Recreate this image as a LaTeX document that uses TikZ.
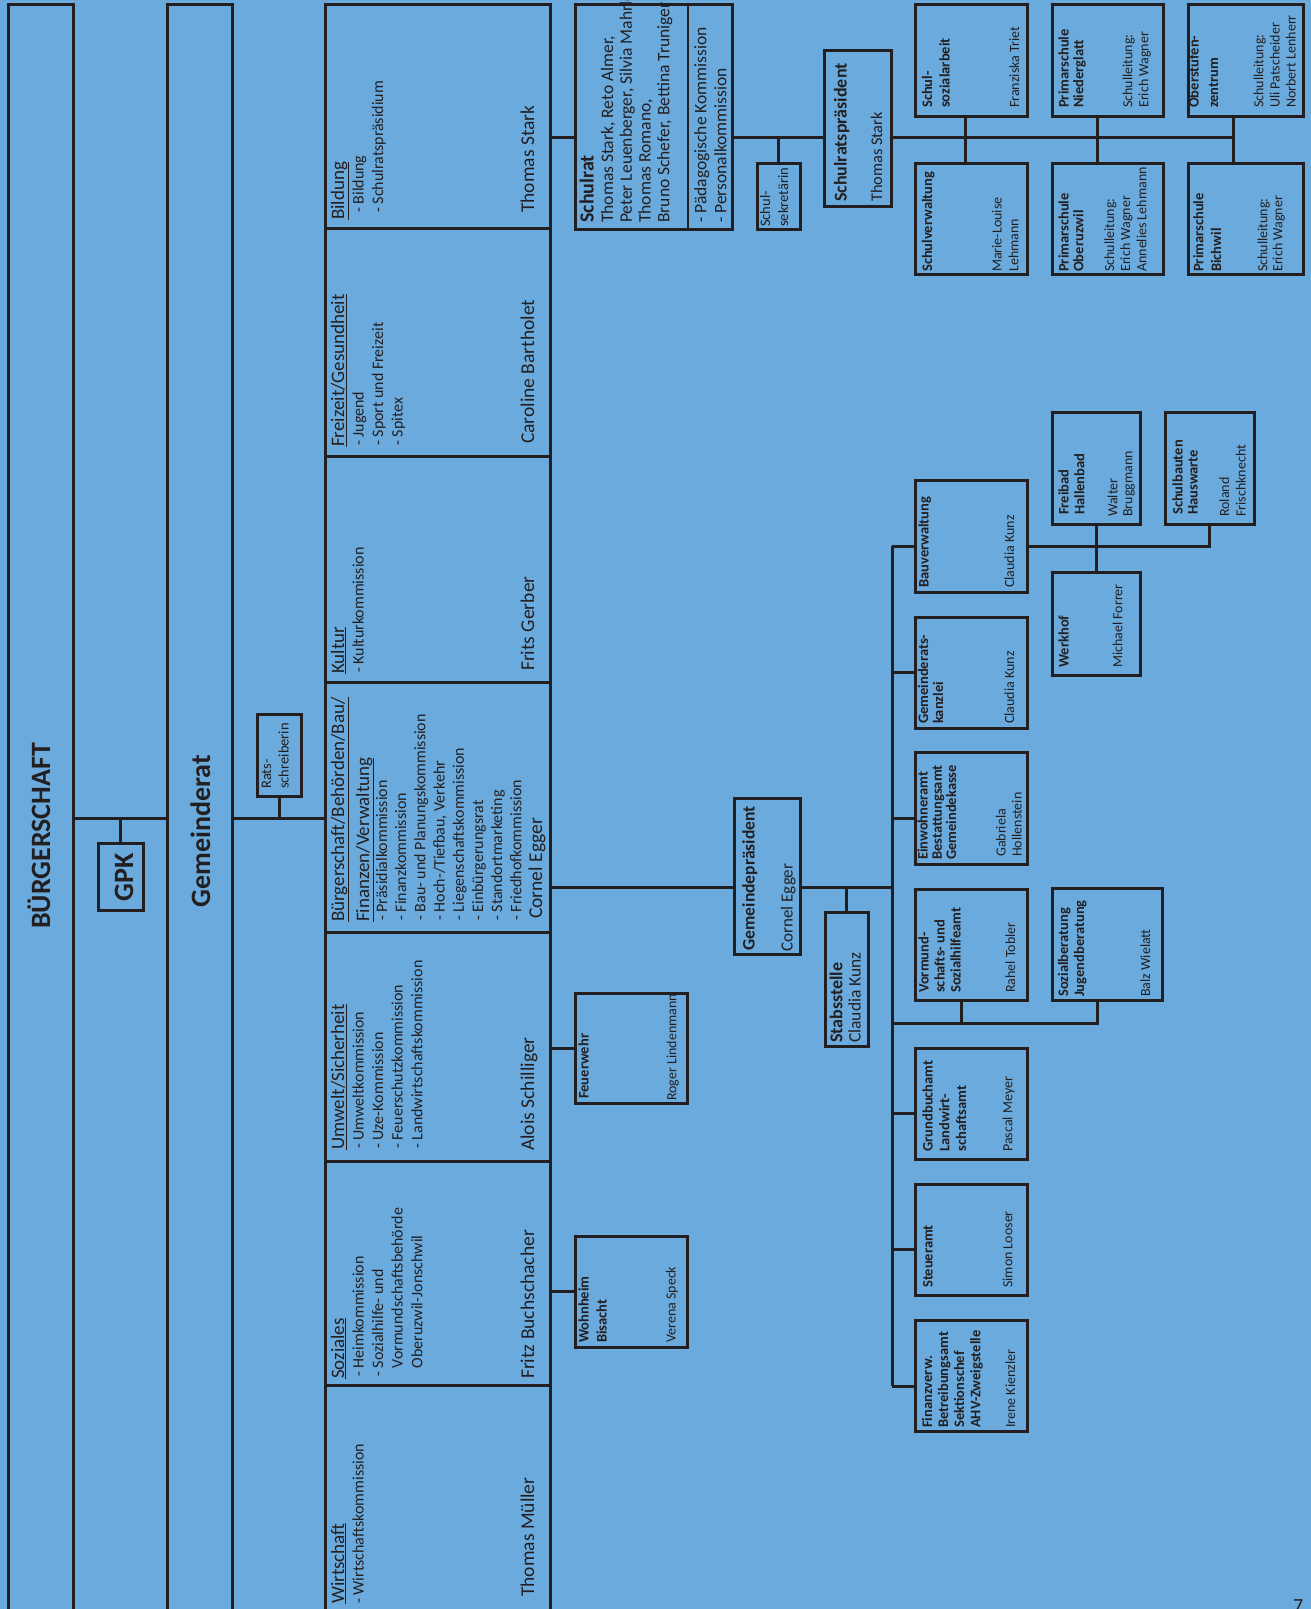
\documentclass[tikz,border=0pt]{standalone}
\usepackage{fontspec}
\setmainfont{Carlito}
\usepackage{tikz}
\definecolor{bgblue}{RGB}{106,170,221}
\definecolor{ink}{RGB}{35,31,32}
\newcommand{\fsz}[2]{\fontsize{#1}{#2}\selectfont}
\newcommand{\lns}[1]{\begin{tabular}[t]{@{}l@{}}#1\end{tabular}}

\begin{document}
\begin{tikzpicture}[x=1pt, y=-1pt,
    box/.style={draw=ink, line width=3pt, inner sep=0pt},
    conn/.style={draw=ink, line width=3pt},
    txt/.style={rotate=90, anchor=base west, inner sep=0pt, text=ink},
    bigtxt/.style={rotate=90, anchor=base, inner sep=0pt, text=ink, font=\fsz{28}{32}\bfseries},
    depttitle/.style={txt, font=\fsz{19}{25}},
    deptlist/.style={txt, font=\fsz{16}{19.6}},
    deptname/.style={txt, font=\fsz{19.5}{23}},
    unittitle/.style={txt, font=\fsz{14.5}{15.5}\bfseries},
    unitname/.style={txt, font=\fsz{14}{16}}]
  \useasboundingbox (0,0) rectangle (1311,1609);
  \fill[bgblue] (0,0) rectangle (1311,1609);

  % Buergerschaft, GPK, Gemeinderat
  \node[box,minimum width=65,minimum height=1616] (bsch) at (40.5,812) {};
  \node[box,minimum width=65,minimum height=1616] (gemrat) at (199.5,812) {};
  \node[box,minimum width=45,minimum height=67] (gpk) at (120.5,876.5) {};
  \node[box,minimum width=44,minimum height=82] (rats) at (279,755) {};
  \node[bigtxt] (bsch-t) at (50,836) {BÜRGERSCHAFT};
  \node[bigtxt] (gpk-t) at (133,877) {GPK};
  \node[bigtxt] (gemrat-t) at (210,831) {Gemeinderat};
  \node[txt,font=\fsz{14.5}{17.5}] (rats-t) at (271,789) {\lns{Rats-\\schreiberin}};

  % Ressorts
  \node[box,minimum width=225,minimum height=224] (bild) at (437.5,116) {};
  \node[box,minimum width=225,minimum height=228] (frei) at (437.5,342) {};
  \node[box,minimum width=225,minimum height=226] (kult) at (437.5,569) {};
  \node[box,minimum width=225,minimum height=250] (buerg) at (437.5,807) {};
  \node[box,minimum width=225,minimum height=229] (umw) at (437.5,1046.5) {};
  \node[box,minimum width=225,minimum height=224] (soz) at (437.5,1273) {};
  \node[box,minimum width=225,minimum height=235] (wirt) at (437.5,1502.5) {};

  \node[depttitle] (bild-t) at (344,220) {\underline{Bildung}};
  \node[deptlist] (bild-l) at (363.5,213) {\lns{- Bildung\\- Schulratspräsidium}};
  \node[deptname] (bild-n) at (534,213) {Thomas Stark};
  \node[depttitle] (frei-t) at (344,447) {\underline{Freizeit/Gesundheit}};
  \node[deptlist] (frei-l) at (363.5,446) {\lns{- Jugend\\- Sport und Freizeit\\- Spitex}};
  \node[deptname] (frei-n) at (534,444) {Caroline Bartholet};
  \node[depttitle] (kult-t) at (344,674) {\underline{Kultur}};
  \node[deptlist] (kult-l) at (363.5,673) {- Kulturkommission};
  \node[deptname] (kult-n) at (534,671) {Frits Gerber};
  \node[depttitle] (buerg-t) at (344,922)
    {\lns{\underline{Bürgerschaft/Behörden/Bau/}\\\underline{Finanzen/Verwaltung}}};
  \node[deptlist,font=\fsz{16}{19.2}] (buerg-l) at (387,921)
    {\lns{- Präsidialkommission\\- Finanzkommission\\- Bau- und Planungskommission\\- Hoch-/Tiefbau, Verkehr\\- Liegenschaftskommission\\- Einbürgerungsrat\\- Standortmarketing\\- Friedhofkommission}};
  \node[deptname] (buerg-n) at (542,919) {Cornel Egger};
  \node[depttitle] (umw-t) at (344,1150) {\underline{Umwelt/Sicherheit}};
  \node[deptlist] (umw-l) at (363.5,1149)
    {\lns{- Umweltkommission\\- Uze-Kommission\\- Feuerschutzkommission\\- Landwirtschaftskommission}};
  \node[deptname] (umw-n) at (534,1151) {Alois Schilliger};
  \node[depttitle] (soz-t) at (344,1379) {\underline{Soziales}};
  \node[deptlist] (soz-l) at (363.5,1377)
    {\lns{- Heimkommission\\- Sozialhilfe- und\\\phantom{- }Vormundschaftsbehörde\\\phantom{- }Oberuzwil-Jonschwil}};
  \node[deptname] (soz-n) at (534,1379) {Fritz Buchschacher};
  \node[depttitle] (wirt-t) at (344,1604) {\underline{Wirtschaft}};
  \node[deptlist] (wirt-l) at (363.5,1604) {- Wirtschaftskommission};
  \node[deptname] (wirt-n) at (534,1597) {Thomas Müller};

  % Schulbereich
  \node[box,minimum width=157,minimum height=225] (schulrat) at (653.5,116.5) {};
  \node[box,minimum width=43,minimum height=66] (sekr) at (778.5,196) {};
  \node[box,minimum width=67,minimum height=156] (srpraes) at (857.5,128) {};
  \draw[ink,line width=1.2pt] ([xshift=34.5pt]schulrat.north) -- ([xshift=34.5pt]schulrat.south);
  \node[txt,font=\fsz{20}{24}\bfseries] (schulrat-t) at (593.6,223) {Schulrat};
  \node[txt,font=\fsz{17.5}{18.8}] (schulrat-m) at (613,223)
    {\lns{Thomas Stark, Reto Almer,\\Peter Leuenberger, Silvia Mahrle,\\Thomas Romano,\\Bruno Schefer, Bettina Truniger}};
  \node[txt,font=\fsz{17.5}{20}] (schulrat-k) at (706.3,223)
    {\lns{- Pädagogische Kommission\\- Personalkommission}};
  \node[txt,font=\fsz{14.5}{18}] (sekr-t) at (770,227) {\lns{Schul-\\sekretärin}};
  \node[txt,font=\fsz{18}{20}\bfseries] (srpraes-t) at (846.6,202) {Schulratspräsident};
  \node[txt,font=\fsz{16.3}{20}] (srpraes-n) at (882,202) {Thomas Stark};

  \node[box,minimum width=112,minimum height=112] (schsoz) at (971,60) {};
  \node[box,minimum width=112,minimum height=111] (schverw) at (971,218.5) {};
  \node[box,minimum width=111,minimum height=112] (pnieder) at (1107.5,60) {};
  \node[box,minimum width=111,minimum height=111] (poberuz) at (1107.5,218.5) {};
  \node[box,minimum width=115,minimum height=112] (oberst) at (1245.5,60) {};
  \node[box,minimum width=115,minimum height=111] (pbichwil) at (1245.5,218.5) {};

  \node[unittitle,font=\fsz{14.5}{17.5}\bfseries] (schsoz-t) at (932,108) {\lns{Schul-\\sozialarbeit}};
  \node[unitname] (schsoz-n) at (1019,108) {Franziska Triet};
  \node[unittitle] (schverw-t) at (932,272) {Schulverwaltung};
  \node[unitname,font=\fsz{14}{16.6}] (schverw-n) at (1001.7,272) {\lns{Marie-Louise\\Lehmann}};
  \node[unittitle,font=\fsz{14.5}{14.7}\bfseries] (pnieder-t) at (1068.6,108) {\lns{Primarschule\\Niederglatt}};
  \node[unitname] (pnieder-n) at (1132.3,108) {\lns{Schulleitung:\\Erich Wagner}};
  \node[unittitle,font=\fsz{14.5}{14.7}\bfseries] (poberuz-t) at (1068.6,272) {\lns{Primarschule\\Oberuzwil}};
  \node[unitname,font=\fsz{14}{16.2}] (poberuz-n) at (1114,272) {\lns{Schulleitung:\\Erich Wagner\\Annelies Lehmann}};
  \node[unittitle,font=\fsz{14.5}{19.5}\bfseries] (oberst-t) at (1198.6,108) {\lns{Oberstufen-\\zentrum}};
  \node[unitname,font=\fsz{14}{16.2}] (oberst-n) at (1263.3,108) {\lns{Schulleitung:\\Uli Patscheider\\Norbert Lenherr}};
  \node[unittitle,font=\fsz{14.5}{17.7}\bfseries] (pbichwil-t) at (1203.3,272) {\lns{Primarschule\\Bichwil}};
  \node[unitname,font=\fsz{14}{15}] (pbichwil-n) at (1267.3,272) {\lns{Schulleitung:\\Erich Wagner}};

  % Verwaltung
  \node[box,minimum width=112,minimum height=110] (feuer) at (631,1048) {};
  \node[box,minimum width=112,minimum height=111] (wohn) at (631,1291.5) {};
  \node[box,minimum width=66,minimum height=156] (gp) at (767,876) {};
  \node[box,minimum width=43,minimum height=134] (stab) at (846.5,979) {};
  \node[box,minimum width=112,minimum height=112] (bauverw) at (971,536) {};
  \node[box,minimum width=112,minimum height=111] (gkanz) at (971,672.5) {};
  \node[box,minimum width=112,minimum height=112] (einw) at (971,808) {};
  \node[box,minimum width=112,minimum height=111] (vormund) at (971,944.5) {};
  \node[box,minimum width=112,minimum height=111] (grundb) at (971,1103.5) {};
  \node[box,minimum width=112,minimum height=111] (steuer) at (971,1239.5) {};
  \node[box,minimum width=112,minimum height=111] (finanz) at (971,1375.5) {};
  \node[box,minimum width=110,minimum height=112] (sozber) at (1107,944) {};
  \node[box,minimum width=88,minimum height=112] (freibad) at (1096,468) {};
  \node[box,minimum width=88,minimum height=103] (werkhof) at (1096,623.5) {};
  \node[box,minimum width=89,minimum height=112] (schulbau) at (1209.5,468) {};

  \node[unittitle] (feuer-t) at (588.6,1099) {Feuerwehr};
  \node[unitname] (feuer-n) at (676.3,1101) {Roger Lindenmann};
  \node[unittitle,font=\fsz{14.5}{18}\bfseries] (wohn-t) at (588.6,1343) {\lns{Wohnheim\\Bisacht}};
  \node[unitname] (wohn-n) at (675.7,1343) {Verena Speck};
  \node[txt,font=\fsz{17.6}{20}\bfseries] (gp-t) at (754.6,950.7) {Gemeindepräsident};
  \node[txt,font=\fsz{17}{20}] (gp-n) at (792.7,951.7) {Cornel Egger};
  \node[txt,font=\fsz{18}{20}\bfseries] (stab-t) at (842.3,1043) {Stabsstelle};
  \node[txt,font=\fsz{17.5}{20}] (stab-n) at (860.6,1043) {Claudia Kunz};

  \node[unittitle] (bauverw-t) at (928.6,588) {Bauverwaltung};
  \node[unitname] (bauverw-n) at (1014,588) {Claudia Kunz};
  \node[unittitle,font=\fsz{14.5}{15}\bfseries] (gkanz-t) at (928,724) {\lns{Gemeinderats-\\kanzlei}};
  \node[unitname] (gkanz-n) at (1014,724) {Claudia Kunz};
  \node[unittitle,font=\fsz{14.5}{14.2}\bfseries] (einw-t) at (927.6,860) {\lns{Einwohneramt\\Bestattungsamt\\Gemeindekasse}};
  \node[unitname] (einw-n) at (1005.7,857) {\lns{Gabriela\\Hollenstein}};
  \node[unittitle,font=\fsz{14.5}{16}\bfseries] (vormund-t) at (928.6,993) {\lns{Vormund-\\schafts- und\\Sozialhilfeamt}};
  \node[unitname] (vormund-n) at (1015,993) {Rahel Tobler};
  \node[unittitle,font=\fsz{14.5}{16}\bfseries] (sozber-t) at (1068,997) {\lns{Sozialberatung\\Jugendberatung}};
  \node[unitname] (sozber-n) at (1150,997) {Balz Wielatt};
  \node[unittitle,font=\fsz{14.5}{16.7}\bfseries] (grundb-t) at (932.6,1151.7) {\lns{Grundbuchamt\\Landwirt-\\schaftsamt}};
  \node[unitname] (grundb-n) at (1012.3,1152) {Pascal Meyer};
  \node[unittitle] (steuer-t) at (932.6,1288) {Steueramt};
  \node[unitname] (steuer-n) at (1012.3,1288) {Simon Looser};
  \node[unittitle,font=\fsz{14.5}{16.1}\bfseries] (finanz-t) at (932,1428)
    {\lns{Finanzverw.\\Betreibungsamt\\Sektionschef\\AHV-Zweigstelle}};
  \node[unitname] (finanz-n) at (1015,1428) {Irene Kienzler};
  \node[unittitle,font=\fsz{14.5}{15.7}\bfseries] (freibad-t) at (1068.6,515) {\lns{Freibad\\Hallenbad}};
  \node[unitname,font=\fsz{14}{15}] (freibad-n) at (1117.3,517) {\lns{Walter\\Bruggmann}};
  \node[unittitle,font=\fsz{14.5}{15}\bfseries] (schulbau-t) at (1182.6,515) {\lns{Schulbauten\\Hauswarte}};
  \node[unitname,font=\fsz{14}{16.7}] (schulbau-n) at (1229,517) {\lns{Roland\\Frischknecht}};
  \node[unittitle] (werkhof-t) at (1068.6,668) {Werkhof};
  \node[unitname] (werkhof-n) at (1122.3,668) {Michael Forrer};

  \node[anchor=base west,inner sep=0pt,text=ink,font=\fsz{20}{24}] (pagenum) at (1293,1612) {7};

  % Verbindungen
  \coordinate (ratbus) at (122,818);
  \coordinate (schulbus) at (965,137);
  \coordinate (sleg2) at (1097,137);
  \coordinate (sleg3) at (1233,137);
  \coordinate (gpbus) at (847,887);
  \coordinate (trunk) at (892,546);
  \coordinate (trunkend) at (892,1386);
  \coordinate (jbus1) at (961,1023);
  \coordinate (jbus2) at (1097,1023);

  \draw[conn] (bsch.east |- ratbus) -- (gemrat.west |- ratbus);
  \draw[conn] (gpk.north) -- (gpk.north |- ratbus);
  \draw[conn] (gemrat.east |- ratbus) -- (buerg.west |- ratbus);
  \draw[conn] (rats.south) -- (rats.south |- ratbus);

  \draw[conn] (bild.east |- schulbus) -- (schulrat.west |- schulbus);
  \draw[conn] (schulrat.east |- schulbus) -- (srpraes.west |- schulbus);
  \draw[conn] (sekr.north) -- (sekr.north |- schulbus);
  \draw[conn] (srpraes.east |- schulbus) -- (sleg3);
  \draw[conn] (schulbus |- schsoz.south) -- (schulbus |- schverw.north);
  \draw[conn] (sleg2 |- pnieder.south) -- (sleg2 |- poberuz.north);
  \draw[conn] (sleg3 |- oberst.south) -- (sleg3 |- pbichwil.north);

  \draw[conn] (umw.east |- feuer.west) -- (feuer.west);
  \draw[conn] (soz.east |- wohn.west) -- (wohn.west);

  \draw[conn] (buerg.east |- gpbus) -- (gp.west |- gpbus);
  \draw[conn] (gp.east |- gpbus) -- (trunk |- gpbus);
  \draw[conn] (stab.north) -- (stab.north |- gpbus);
  \draw[conn] (trunk) -- (trunkend);
  \draw[conn] (trunk) -- (bauverw.west |- trunk);
  \draw[conn] (gkanz.west) -- (trunk |- gkanz.west);
  \draw[conn] ([yshift=-10pt]einw.west) -- ++(-23,0);
  \draw[conn] ([yshift=-9.5pt]grundb.west) -- ++(-23,0);
  \draw[conn] ([yshift=-9.5pt]steuer.west) -- ++(-23,0);
  \draw[conn] (trunkend) -- (finanz.west |- trunkend);
  \draw[conn] (trunk |- jbus1) -- (jbus2) -- (jbus2 |- sozber.south);
  \draw[conn] (jbus1) -- (jbus1 |- vormund.south);

  \draw[conn] (bauverw.east |- trunk) -| (schulbau.south);
  \draw[conn] (freibad.south) -- (werkhof.north);
\end{tikzpicture}
\end{document}
